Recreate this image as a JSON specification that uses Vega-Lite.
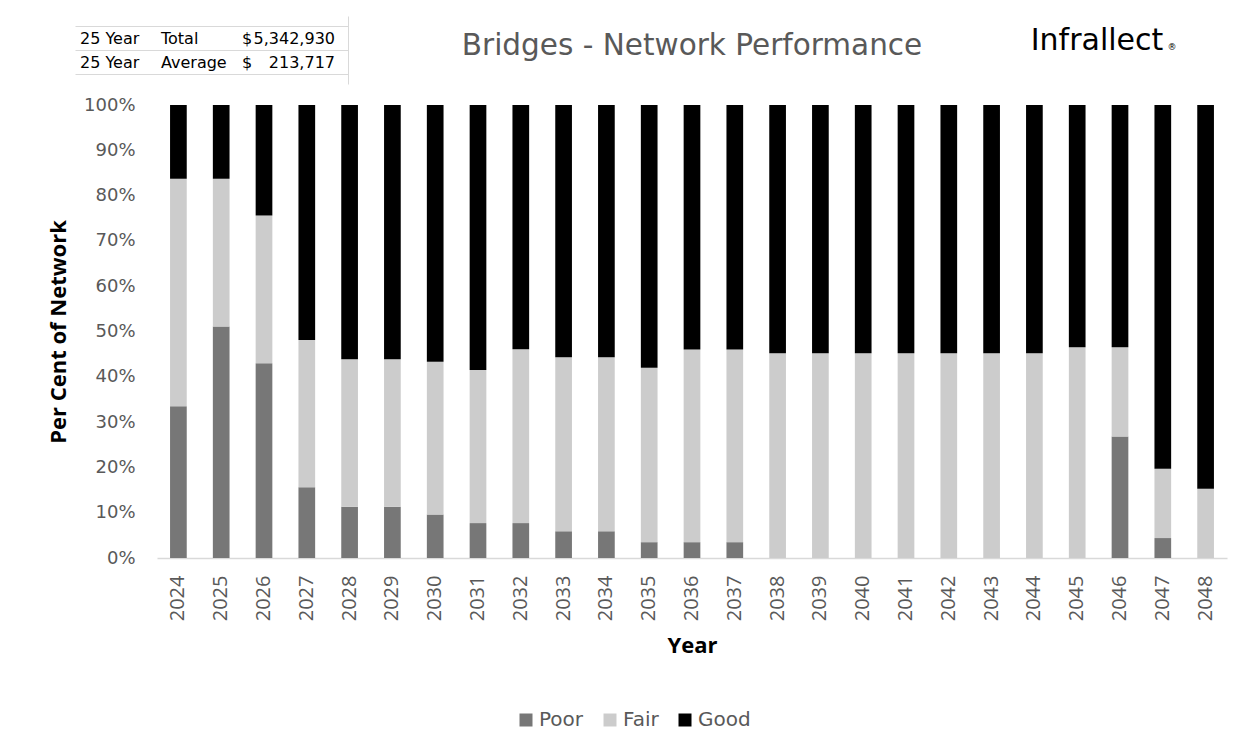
{
  "$schema": "https://vega.github.io/schema/vega-lite/v6.json",
  "background": "white",
  "padding": {"left": 47, "top": 16, "right": -60, "bottom": 0},
  "config": {"view": {"stroke": null}, "font": "DejaVu Sans"},
  "spacing": 12,
  "center": true,
  "vconcat": [
    {
      "spacing": 0,
      "hconcat": [
        {
          "width": 273, "height": 68,
          "data": {"values": [
            {"row": "Total", "label": "25 Year", "measure": "Total", "currency": "$", "amount": "5,342,930"},
            {"row": "Average", "label": "25 Year", "measure": "Average", "currency": "$", "amount": "213,717"}
          ]},
          "encoding": {
            "y": {"field": "row", "type": "nominal",
              "scale": {"type": "band", "domain": ["Total", "Average"], "paddingInner": 0, "paddingOuter": 0.4167},
              "axis": {"orient": "right", "title": null, "labels": false, "ticks": false, "domain": true, "domainColor": "#d9d9d9", "grid": true, "gridColor": "#d9d9d9", "tickBand": "extent"}}
          },
          "layer": [
            {
              "mark": {"type": "text", "align": "left", "baseline": "middle", "dx": 5, "dy": 1, "fontSize": 16, "color": "black"},
              "encoding": {
                "x": {"datum": "A", "bandPosition": 0, "scale": {"type": "band", "domain": ["A", "A2", "B", "B2", "C", "C2", "C3"], "paddingInner": 0, "paddingOuter": 0},
                  "axis": {"values": ["A", "B", "C"], "bandPosition": 0, "grid": true, "gridColor": "#d9d9d9", "domain": false, "ticks": false, "labels": false, "title": null}},
                "text": {"field": "label"}
              }
            },
            {
              "mark": {"type": "text", "align": "left", "baseline": "middle", "dx": 8, "dy": 1, "fontSize": 16, "color": "black"},
              "encoding": {
                "x": {"datum": "B", "bandPosition": 0, "scale": {"type": "band", "domain": ["A", "A2", "B", "B2", "C", "C2", "C3"], "paddingInner": 0, "paddingOuter": 0}, "axis": null},
                "text": {"field": "measure"}
              }
            },
            {
              "mark": {"type": "text", "align": "left", "baseline": "middle", "dx": 11, "dy": 1, "fontSize": 16, "color": "black"},
              "encoding": {
                "x": {"datum": "C", "bandPosition": 0, "scale": {"type": "band", "domain": ["A", "A2", "B", "B2", "C", "C2", "C3"], "paddingInner": 0, "paddingOuter": 0}, "axis": null},
                "text": {"field": "currency"}
              }
            },
            {
              "mark": {"type": "text", "align": "right", "baseline": "middle", "dx": -13, "dy": 1, "fontSize": 16, "color": "black"},
              "encoding": {
                "x": {"datum": "C3", "bandPosition": 1, "scale": {"type": "band", "domain": ["A", "A2", "B", "B2", "C", "C2", "C3"], "paddingInner": 0, "paddingOuter": 0}, "axis": null},
                "text": {"field": "amount"}
              }
            }
          ]
        },
        {
          "width": 680, "height": 68,
          "data": {"values": [{"title": "Bridges - Network Performance"}]},
          "mark": {"type": "text", "fontSize": 29.5, "color": "#595959", "baseline": "alphabetic", "dx": 4, "dy": 5},
          "encoding": {"text": {"field": "title"}}
        },
        {
          "width": 281, "height": 68,
          "data": {"values": [{"brand": "Infrallect", "symbol": "®"}]},
          "layer": [
            {
              "mark": {"type": "text", "fontSize": 30, "color": "black", "baseline": "alphabetic", "dx": -71.5},
              "encoding": {"text": {"field": "brand"}}
            },
            {
              "mark": {"type": "text", "fontSize": 9, "color": "black", "baseline": "alphabetic", "dx": 3.5},
              "encoding": {"text": {"field": "symbol"}}
            }
          ]
        }
      ]
    },
    {
      "width": 1070,
      "height": 453,
      "data": {"values": [
        {"year": "2024", "condition": "Poor", "rank": 1, "pct": 33.5},
        {"year": "2024", "condition": "Fair", "rank": 2, "pct": 50.2},
        {"year": "2024", "condition": "Good", "rank": 3, "pct": 16.3},
        {"year": "2025", "condition": "Poor", "rank": 1, "pct": 51.1},
        {"year": "2025", "condition": "Fair", "rank": 2, "pct": 32.6},
        {"year": "2025", "condition": "Good", "rank": 3, "pct": 16.3},
        {"year": "2026", "condition": "Poor", "rank": 1, "pct": 43.0},
        {"year": "2026", "condition": "Fair", "rank": 2, "pct": 32.6},
        {"year": "2026", "condition": "Good", "rank": 3, "pct": 24.4},
        {"year": "2027", "condition": "Poor", "rank": 1, "pct": 15.6},
        {"year": "2027", "condition": "Fair", "rank": 2, "pct": 32.5},
        {"year": "2027", "condition": "Good", "rank": 3, "pct": 51.9},
        {"year": "2028", "condition": "Poor", "rank": 1, "pct": 11.3},
        {"year": "2028", "condition": "Fair", "rank": 2, "pct": 32.6},
        {"year": "2028", "condition": "Good", "rank": 3, "pct": 56.1},
        {"year": "2029", "condition": "Poor", "rank": 1, "pct": 11.3},
        {"year": "2029", "condition": "Fair", "rank": 2, "pct": 32.6},
        {"year": "2029", "condition": "Good", "rank": 3, "pct": 56.1},
        {"year": "2030", "condition": "Poor", "rank": 1, "pct": 9.6},
        {"year": "2030", "condition": "Fair", "rank": 2, "pct": 33.7},
        {"year": "2030", "condition": "Good", "rank": 3, "pct": 56.7},
        {"year": "2031", "condition": "Poor", "rank": 1, "pct": 7.7},
        {"year": "2031", "condition": "Fair", "rank": 2, "pct": 33.8},
        {"year": "2031", "condition": "Good", "rank": 3, "pct": 58.5},
        {"year": "2032", "condition": "Poor", "rank": 1, "pct": 7.7},
        {"year": "2032", "condition": "Fair", "rank": 2, "pct": 38.4},
        {"year": "2032", "condition": "Good", "rank": 3, "pct": 53.9},
        {"year": "2033", "condition": "Poor", "rank": 1, "pct": 5.9},
        {"year": "2033", "condition": "Fair", "rank": 2, "pct": 38.4},
        {"year": "2033", "condition": "Good", "rank": 3, "pct": 55.7},
        {"year": "2034", "condition": "Poor", "rank": 1, "pct": 5.9},
        {"year": "2034", "condition": "Fair", "rank": 2, "pct": 38.4},
        {"year": "2034", "condition": "Good", "rank": 3, "pct": 55.7},
        {"year": "2035", "condition": "Poor", "rank": 1, "pct": 3.5},
        {"year": "2035", "condition": "Fair", "rank": 2, "pct": 38.5},
        {"year": "2035", "condition": "Good", "rank": 3, "pct": 58.0},
        {"year": "2036", "condition": "Poor", "rank": 1, "pct": 3.5},
        {"year": "2036", "condition": "Fair", "rank": 2, "pct": 42.5},
        {"year": "2036", "condition": "Good", "rank": 3, "pct": 54.0},
        {"year": "2037", "condition": "Poor", "rank": 1, "pct": 3.5},
        {"year": "2037", "condition": "Fair", "rank": 2, "pct": 42.5},
        {"year": "2037", "condition": "Good", "rank": 3, "pct": 54.0},
        {"year": "2038", "condition": "Poor", "rank": 1, "pct": 0},
        {"year": "2038", "condition": "Fair", "rank": 2, "pct": 45.2},
        {"year": "2038", "condition": "Good", "rank": 3, "pct": 54.8},
        {"year": "2039", "condition": "Poor", "rank": 1, "pct": 0},
        {"year": "2039", "condition": "Fair", "rank": 2, "pct": 45.2},
        {"year": "2039", "condition": "Good", "rank": 3, "pct": 54.8},
        {"year": "2040", "condition": "Poor", "rank": 1, "pct": 0},
        {"year": "2040", "condition": "Fair", "rank": 2, "pct": 45.2},
        {"year": "2040", "condition": "Good", "rank": 3, "pct": 54.8},
        {"year": "2041", "condition": "Poor", "rank": 1, "pct": 0},
        {"year": "2041", "condition": "Fair", "rank": 2, "pct": 45.2},
        {"year": "2041", "condition": "Good", "rank": 3, "pct": 54.8},
        {"year": "2042", "condition": "Poor", "rank": 1, "pct": 0},
        {"year": "2042", "condition": "Fair", "rank": 2, "pct": 45.2},
        {"year": "2042", "condition": "Good", "rank": 3, "pct": 54.8},
        {"year": "2043", "condition": "Poor", "rank": 1, "pct": 0},
        {"year": "2043", "condition": "Fair", "rank": 2, "pct": 45.2},
        {"year": "2043", "condition": "Good", "rank": 3, "pct": 54.8},
        {"year": "2044", "condition": "Poor", "rank": 1, "pct": 0},
        {"year": "2044", "condition": "Fair", "rank": 2, "pct": 45.2},
        {"year": "2044", "condition": "Good", "rank": 3, "pct": 54.8},
        {"year": "2045", "condition": "Poor", "rank": 1, "pct": 0},
        {"year": "2045", "condition": "Fair", "rank": 2, "pct": 46.5},
        {"year": "2045", "condition": "Good", "rank": 3, "pct": 53.5},
        {"year": "2046", "condition": "Poor", "rank": 1, "pct": 26.8},
        {"year": "2046", "condition": "Fair", "rank": 2, "pct": 19.7},
        {"year": "2046", "condition": "Good", "rank": 3, "pct": 53.5},
        {"year": "2047", "condition": "Poor", "rank": 1, "pct": 4.4},
        {"year": "2047", "condition": "Fair", "rank": 2, "pct": 15.3},
        {"year": "2047", "condition": "Good", "rank": 3, "pct": 80.3},
        {"year": "2048", "condition": "Poor", "rank": 1, "pct": 0},
        {"year": "2048", "condition": "Fair", "rank": 2, "pct": 15.3},
        {"year": "2048", "condition": "Good", "rank": 3, "pct": 84.7}
      ]},
      "mark": {"type": "bar"},
      "encoding": {
        "x": {"field": "year", "type": "ordinal",
          "scale": {"paddingInner": 0.61, "paddingOuter": 0.305},
          "axis": {"title": "Year", "labelAngle": -90, "labelFont": "Open Sans", "labelFontSize": 20, "labelColor": "#595959", "labelPadding": 17, "ticks": false, "tickSize": 0, "domainColor": "#d9d9d9", "domainWidth": 1.5, "titleFont": "Open Sans", "titleFontSize": 22, "titleFontWeight": "bold", "titleColor": "black", "titlePadding": 15}},
        "y": {"field": "pct", "type": "quantitative", "stack": "normalize",
          "scale": {"domain": [0, 1]},
          "axis": {"title": "Per Cent of Network", "values": [0, 0.1, 0.2, 0.3, 0.4, 0.5, 0.6, 0.7, 0.8, 0.9, 1], "format": ".0%", "labelFont": "DejaVu Sans", "labelFontSize": 18, "labelColor": "#595959", "labelPadding": 22, "ticks": false, "tickSize": 0, "domain": false, "grid": false, "titleFont": "Open Sans", "titleFontSize": 22, "titleFontWeight": "bold", "titleColor": "black", "titlePadding": 13}},
        "color": {"field": "condition", "type": "nominal",
          "scale": {"domain": ["Poor", "Fair", "Good"], "range": ["#777777", "#cccccc", "#000000"]},
          "legend": {"title": null, "orient": "none", "legendX": 441, "legendY": 694, "direction": "horizontal", "symbolType": "square", "symbolSize": 169, "symbolStrokeWidth": 0, "labelFont": "DejaVu Sans", "labelFontSize": 20, "labelColor": "#595959", "labelOffset": 3, "columnPadding": 16, "padding": 0}},
        "order": {"field": "rank", "type": "quantitative"}
      }
    }
  ]
}
